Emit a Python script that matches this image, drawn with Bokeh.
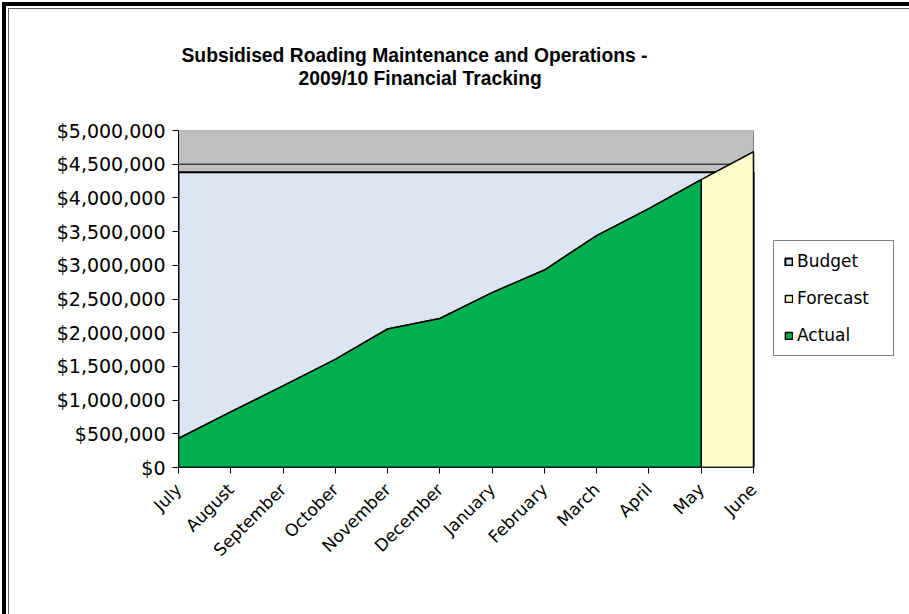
import math
from bokeh.plotting import figure
from bokeh.models import Range1d, FixedTicker, NumeralTickFormatter, Legend, LegendItem, Title
from bokeh.embed import file_html
from bokeh.resources import INLINE

# ---- data ----
months = ["July", "August", "September", "October", "November", "December",
          "January", "February", "March", "April", "May", "June"]
actual = [430000, 825000, 1210000, 1605000, 2055000, 2210000,
          2595000, 2930000, 3440000, 3840000, 4270000]
forecast_june = [4685000]
budget = [4380000] * 12
y_ticks = [0, 500000, 1000000, 1500000, 2000000, 2500000,
           3000000, 3500000, 4000000, 4500000, 5000000]
title_lines = ["Subsidised Roading Maintenance and Operations -",
               "2009/10 Financial Tracking"]

x_idx = list(range(len(months)))
forecast = actual + forecast_june

FONT = "DejaVu Sans"

# layout: plot area 575px wide (July..June); frame extends to the right to hold the legend
W, H = 909, 614
LEFT, TOP, BOTTOM = 178, 130, 147
PLOT_W = 575
frame_w = W - LEFT
x_end = (x_idx[-1] - x_idx[0]) * frame_w / PLOT_W

p = figure(width=W, height=H,
           x_range=Range1d(x_idx[0], x_end), y_range=Range1d(y_ticks[0], y_ticks[-1]),
           output_backend="svg", toolbar_location=None,
           min_border_left=LEFT, min_border_right=0,
           min_border_bottom=BOTTOM, min_border_top=TOP)

p.background_fill_color = "white"
p.border_fill_color = "white"
p.border_fill_alpha = 0
p.outline_line_color = None
p.xgrid.grid_line_color = None
p.ygrid.grid_line_color = None

# grey plot area
p.quad(left=[x_idx[0]], right=[x_idx[-1]], bottom=[y_ticks[0]], top=[y_ticks[-1]],
       fill_color="#C0C0C0", line_color="#808080", line_width=1)
# black gridlines every 500k (hidden behind areas except at 4.5M)
g = y_ticks[1:-1]
p.segment(x0=[x_idx[0]] * len(g), x1=[x_idx[-1]] * len(g), y0=g, y1=g,
          line_color="black", line_width=1)

# areas
bx = [x_idx[0]] + x_idx + [x_idx[-1]]
by = [0] + budget + [0]
r_budget = p.patch(bx, by, fill_color="#DCE6F2", line_color="black", line_width=2)

fx = [x_idx[0]] + x_idx + [x_idx[-1]]
fy = [0] + forecast + [0]
r_fore = p.patch(fx, fy, fill_color="#FFFFCC", line_color="black", line_width=1.5)

ax = [x_idx[0]] + x_idx[:len(actual)] + [x_idx[len(actual) - 1]]
ay = [0] + actual + [0]
r_act = p.patch(ax, ay, fill_color="#00B050", line_color="black", line_width=1.5)

# x baseline (category axis line) from July to June
p.segment(x0=[x_idx[0]], x1=[x_idx[-1]], y0=[y_ticks[0]], y1=[y_ticks[0]],
          line_color="black", line_width=1.5)

# axes
p.yaxis.ticker = FixedTicker(ticks=y_ticks)
p.yaxis.formatter = NumeralTickFormatter(format="$0,0")
p.yaxis.major_label_text_font = FONT
p.yaxis.major_label_text_font_size = "19px"
p.yaxis.major_label_text_color = "black"
p.yaxis.axis_line_color = "black"
p.yaxis.major_tick_line_color = "black"
p.yaxis.major_tick_out = 6
p.yaxis.major_tick_in = 0
p.yaxis.minor_tick_line_color = None
p.yaxis.major_label_standoff = 7

p.xaxis.ticker = FixedTicker(ticks=x_idx)
p.xaxis.major_label_overrides = {i: m for i, m in zip(x_idx, months)}
p.xaxis.major_label_orientation = math.pi / 4
p.xaxis.major_label_text_font = FONT
p.xaxis.major_label_text_font_size = "17px"
p.xaxis.major_label_text_color = "black"
p.xaxis.axis_line_color = None
p.xaxis.major_tick_line_color = "black"
p.xaxis.major_tick_out = 6
p.xaxis.major_tick_in = 0
p.xaxis.minor_tick_line_color = None
p.xaxis.major_label_standoff = 13

# title (two lines) + a blank spacer between title and plot area
spacer = Title(text=" ", text_font_size="10px", standoff=29)
t2 = Title(text=title_lines[1], align="left", offset=120, standoff=0,
           text_font="Liberation Sans", text_font_size="19.3px",
           text_font_style="bold", text_color="black")
t1 = Title(text=title_lines[0], align="left", offset=3, standoff=0,
           text_font="Liberation Sans", text_font_size="19.3px",
           text_font_style="bold", text_color="black")
p.add_layout(spacer, "above")
p.add_layout(t2, "above")
p.add_layout(t1, "above")

# legend (inside the widened frame, right of the plot area)
legend = Legend(items=[LegendItem(label="Budget", renderers=[r_budget]),
                       LegendItem(label="Forecast", renderers=[r_fore]),
                       LegendItem(label="Actual", renderers=[r_act])],
                location=(PLOT_W + 20, 111), margin=0)
legend.label_text_font = FONT
legend.label_text_font_size = "17px"
legend.label_text_color = "black"
legend.glyph_width = 9
legend.glyph_height = 9
legend.label_standoff = 4
legend.label_width = 86
legend.label_height = 20
legend.spacing = 17
legend.padding = 10
legend.border_line_color = "black"
legend.border_line_width = 1
legend.background_fill_color = "white"
legend.background_fill_alpha = 1
p.add_layout(legend, "center")

# outer chart frame (thick black line on left and top, as in the reference)
p.styles = {
    "background-color": "white",
    "box-shadow": ("inset 2px 2px 0 0 white, inset 6px 6px 0 0 black, "
                   "inset 8px 8px 0 0 white, inset 9px 9px 0 0 #606060"),
}

open("out.html", "w").write(file_html(p, INLINE))
